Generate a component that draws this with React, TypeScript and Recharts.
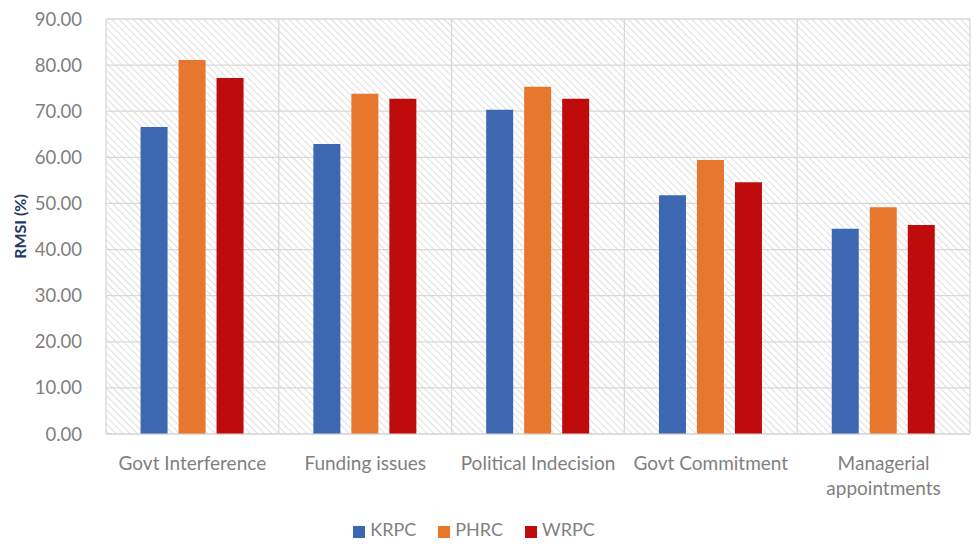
import { BarChart, Bar, XAxis, YAxis, CartesianGrid, Legend, Text } from 'recharts'

const categories = ['Govt Interference', 'Funding issues', 'Political Indecision', 'Govt Commitment', 'Managerial appointments']
const krpc = [66.6, 62.9, 70.3, 51.8, 44.5]
const phrc = [81.1, 73.8, 75.3, 59.4, 49.2]
const wrpc = [77.2, 72.7, 72.7, 54.6, 45.3]
const yTicks = [0, 10, 20, 30, 40, 50, 60, 70, 80, 90]

const data = categories.map((name, i) => ({ name, KRPC: krpc[i], PHRC: phrc[i], WRPC: wrpc[i] }))

const FONT = 'Lato, "Open Sans", sans-serif'
const GREY = '#7f7f7f'

const CategoryTick = (props: any) => {
  const { x, y, payload } = props
  return (
    <Text
      x={x}
      y={y + 15}
      width={175}
      textAnchor="middle"
      verticalAnchor="start"
      fill={GREY}
      style={{ fontSize: 19, fontFamily: FONT }}
      lineHeight={25}
    >
      {payload.value}
    </Text>
  )
}

export default function App() {
  return (
    <div style={{ position: 'absolute', left: 0, top: 0, width: 973, height: 544, background: '#fff' }}>
      <BarChart
        width={973}
        height={544}
        data={data}
        margin={{ top: 19, right: 3, left: 0, bottom: 0 }}
        barCategoryGap="20%"
        barGap={11}
      >
        <defs>
          <pattern id="hatch" patternUnits="userSpaceOnUse" width="5" height="5" patternTransform="rotate(-45)">
            <line x1="0" y1="0" x2="0" y2="5" stroke="#d6d6d6" strokeWidth="1.6" />
          </pattern>
        </defs>
        <CartesianGrid
          stroke="#d9d9d9"
          strokeWidth={1.3}
          fill="url(#hatch)"
          fillOpacity={1}
          verticalCoordinatesGenerator={({ offset }: any) =>
            categories.map((_, i) => offset.left + (i * offset.width) / categories.length).concat(offset.left + offset.width)
          }
        />
        <XAxis
          dataKey="name"
          axisLine={{ stroke: '#d9d9d9' }}
          tickLine={false}
          interval={0}
          height={84}
          tick={<CategoryTick />}
        />
        <YAxis
          width={106}
          domain={[0, 90]}
          ticks={yTicks}
          axisLine={false}
          tickLine={false}
          tickMargin={18}
          tickFormatter={(v: number) => v.toFixed(2)}
          tick={{ fill: GREY, fontSize: 18.5, fontFamily: FONT }}
          label={{
            value: 'RMSI (%)',
            angle: -90,
            position: 'insideLeft',
            offset: 20,
            style: { fill: '#1f3864', fontSize: 16, fontWeight: 700, fontFamily: FONT, textAnchor: 'middle' },
          }}
        />
        <Legend
          verticalAlign="bottom"
          align="center"
          iconType="square"
          iconSize={12}
          height={26}
          formatter={(value: string) => (
            <span style={{ color: GREY, fontSize: 18, fontFamily: FONT, marginLeft: 1, marginRight: 12 }}>{value}</span>
          )}
        />
        <Bar dataKey="KRPC" fill="#3d67b0" isAnimationActive={false} />
        <Bar dataKey="PHRC" fill="#e8772e" isAnimationActive={false} />
        <Bar dataKey="WRPC" fill="#c00b0d" isAnimationActive={false} />
      </BarChart>
    </div>
  )
}
